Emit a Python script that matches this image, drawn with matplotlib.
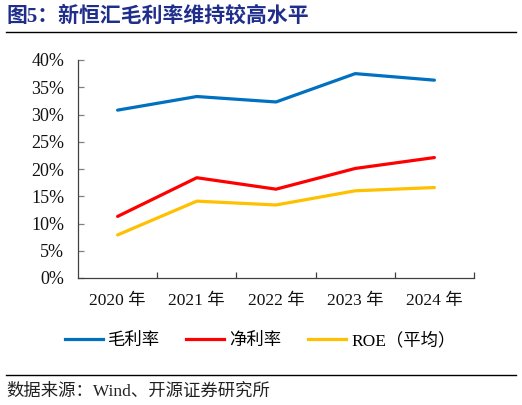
import matplotlib
matplotlib.use("Agg")
import matplotlib.pyplot as plt
from matplotlib.ticker import MultipleLocator, FixedLocator, PercentFormatter
from matplotlib.lines import Line2D

years = ["2020 年", "2021 年", "2022 年", "2023 年", "2024 年"]
gross_margin = [30.8, 33.3, 32.3, 37.5, 36.3]
net_margin = [11.3, 18.4, 16.3, 20.1, 22.1]
roe_avg = [7.9, 14.1, 13.4, 16.0, 16.6]
series_names = ["毛利率", "净利率", "ROE（平均）"]
colors = ["#0070C0", "#FF0000", "#FFC000"]

FAM = ["Liberation Serif", "Noto Sans CJK SC", "DejaVu Sans"]
plt.rcParams['font.family'] = FAM

fig = plt.figure(figsize=(5.22, 4.05), dpi=100)
ax = fig.add_axes([78/522, 1-278/405, (474-78)/522, (278-60)/405])

x = list(range(len(years)))
for vals, c, n in zip([gross_margin, net_margin, roe_avg], colors, series_names):
    ax.plot(x, vals, color=c, lw=2.3, label=n, solid_capstyle='round')

ax.set_xlim(-0.5, 4.5)
ax.set_ylim(0, 40)
ax.yaxis.set_major_locator(MultipleLocator(5))
ax.yaxis.set_major_formatter(PercentFormatter(decimals=0))
ax.set_xticks(x)
ax.set_xticklabels(years)
ax.xaxis.set_minor_locator(FixedLocator([0.5, 1.5, 2.5, 3.5, 4.5]))
ax.tick_params(axis='x', which='major', length=0, pad=11, labelsize=12.5)
ax.tick_params(axis='x', which='minor', length=4, direction='in', color='#404040', width=0.9)
ax.tick_params(axis='y', which='major', length=4, direction='in', color='#808080', width=0.9, labelsize=13, pad=10)
for lab in ax.get_xticklabels() + ax.get_yticklabels():
    lab.set_family(FAM)
    lab.set_color('#111111')

for s in ['top', 'right']:
    ax.spines[s].set_visible(False)
for s in ['left', 'bottom']:
    ax.spines[s].set_color('#404040')
    ax.spines[s].set_linewidth(0.9)

handles = [Line2D([0], [0], color=c, lw=2.3) for c in colors]
leg = fig.legend(handles, series_names, loc='center', bbox_to_anchor=(260/522, 1-341/405),
                 ncol=3, frameon=False, handlelength=2.2, handletextpad=0.3,
                 columnspacing=1.5, prop={'family': FAM, 'size': 12.5})

fig.text(6/522, 1-17/405, "图5：新恒汇毛利率维持较高水平", fontsize=15, fontweight='bold',
         color='#1F2E8A', va='center', ha='left', family=FAM)
fig.add_artist(Line2D([6/522, 516/522], [1-31.5/405, 1-31.5/405], color='black', lw=1.0))
fig.add_artist(Line2D([6/522, 516/522], [1-375/405, 1-375/405], color='black', lw=1.0))
fig.text(6/522, 1-392/405, "数据来源：Wind、开源证券研究所", fontsize=12.5,
         color='#222222', va='center', ha='left', family=FAM)

fig.savefig("out.png", dpi=100)
